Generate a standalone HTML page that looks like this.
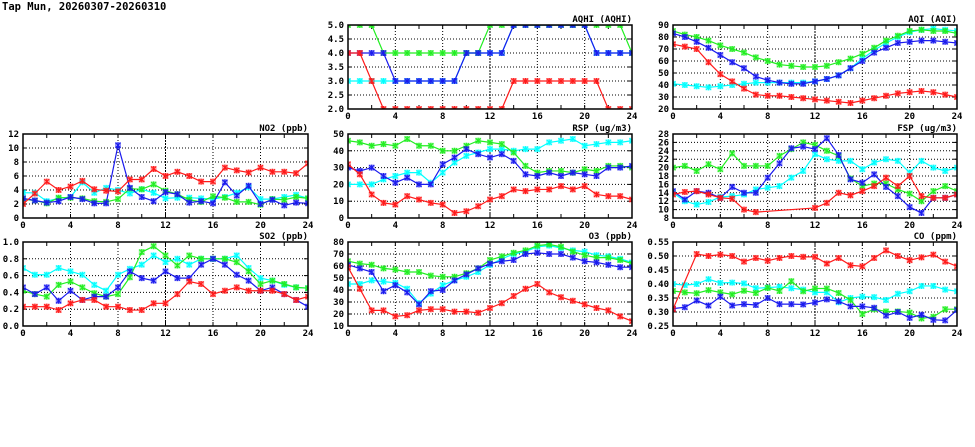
<!DOCTYPE html>
<html><head><meta charset="utf-8">
<style>
html,body{margin:0;padding:0;background:#fff;width:975px;height:447px;overflow:hidden}
svg text{font-family:"DejaVu Sans Mono","Liberation Mono",monospace;font-weight:bold;font-size:9px;fill:#000}
</style></head><body>
<svg id="s" width="975" height="447" xmlns="http://www.w3.org/2000/svg">
<text x="2" y="10" style="font-size:10.5px">Tap Mun, 20260307-20260310</text>
</svg>
<script>
const S=document.getElementById('s');const NS='http://www.w3.org/2000/svg';
function el(t,a,p){const e=document.createElementNS(NS,t);for(const k in a)e.setAttribute(k,a[k]);(p||S).appendChild(e);return e;}
const C={c:'#00ffff',g:'#22ee22',b:'#1a1aee',r:'#ff1a1a'};
const panels=[
{t:'AQHI (AQHI)',x0:348,x1:632,y0:25,y1:109,min:2,max:5,ticks:[2,2.5,3,3.5,4,4.5,5],fmt:v=>v.toFixed(1),d:{
c:[3,3,3,3,3,3,3,3,3,3,4,4,4,4,5,5,5,5,5,5,5,4,4,4,4],
g:[5,5,5,4,4,4,4,4,4,4,4,4,5,5,5,5,5,5,5,5,5,5,5,5,4],
b:[4,4,4,4,3,3,3,3,3,3,4,4,4,4,5,5,5,5,5,5,5,4,4,4,4],
r:[4,4,3,2,2,2,2,2,2,2,2,2,2,2,3,3,3,3,3,3,3,3,2,2,2]}},
{t:'AQI (AQI)',x0:673,x1:957,y0:25,y1:109,min:20,max:90,ticks:[20,30,40,50,60,70,80,90],fmt:v=>v,d:{
c:[41,40,39,38,39,40,41,42,42,42,42,42,43,45,48,54,62,69,75,80,84,86,87,86,85],
g:[85,82,80,77,73,70,67,63,60,57,56,55,55,56,59,62,66,71,77,81,85,86,85,85,83],
b:[83,80,76,71,65,59,54,47,44,42,41,41,43,45,48,54,60,67,71,75,76,77,77,76,75],
r:[74,72,70,59,49,43,37,32,31,31,30,29,28,27,26,25,27,29,31,33,34,35,34,32,30]}},
{t:'NO2 (ppb)',x0:23,x1:308,y0:134,y1:218,min:0,max:12,ticks:[0,2,4,6,8,10,12],fmt:v=>v,d:{
c:[3.6,3.6,2.4,2.8,3,5.1,3.6,4.3,4,3.5,4.1,3.6,2.8,2.9,2.9,2.8,2.7,3,3.6,4.4,2.7,2.7,3,3.3,2.8],
g:[2.7,2.5,2.1,2.9,2.9,2.8,2.4,2.3,2.7,4.2,4.1,4.8,3.9,3.4,2.6,2.3,3.1,2.9,2.3,2.3,1.9,2.7,2.6,3,2.8],
b:[2.8,2.5,2.2,2.4,3,2.7,2.1,2.1,10.4,4.3,3,2.4,3.7,3.4,2.2,2.4,2.1,5.1,3.2,4.6,2,2.6,1.8,2.2,2.1],
r:[2,3.5,5.2,4,4.5,5.3,4.1,3.9,3.8,5.5,5.5,7,6,6.6,6,5.2,5.2,7.2,6.8,6.5,7.2,6.6,6.6,6.4,7.8]}},
{t:'RSP (ug/m3)',x0:348,x1:632,y0:134,y1:218,min:0,max:50,ticks:[0,10,20,30,40,50],fmt:v=>v,d:{
c:[20,20,20,23,25,27,27,21,27,33,37,39,41,41,40,41,41,45,46,47,43,44,45,45,46],
g:[46,45,43,44,43,47,43,43,40,40,43,46,45,44,39,31,27,28,28,27,29,28,31,31,30],
b:[30,28,30,25,21,24,20,20,32,36,41,38,36,38,34,26,25,27,25,27,26,25,30,30,31],
r:[32,26,14,9,8,13,11,9,8,3,4,7,11,13,17,16,17,17,19,17,19,14,13,13,11]}},
{t:'FSP (ug/m3)',x0:673,x1:957,y0:134,y1:218,min:8,max:28,ticks:[8,10,12,14,16,18,20,22,24,26,28],fmt:v=>v,d:{
c:[14,12,11.2,11.8,13,13.2,13.6,14.8,15.2,15.6,17.6,19.2,23.2,22,21.6,21.6,19.6,21.2,22,21.6,18.8,21.6,20,19.2,20],
g:[20,20.4,19.2,20.8,19.6,23.4,20.4,20.4,20.4,22.8,24.4,26,25.4,24,22.8,17.4,15.6,16.2,16.2,14.8,13.8,12,14.4,15.6,14.4],
b:[14.4,12.4,14.4,14,12.8,15.4,14,14,17.6,21,24.6,25,24.4,27,23,17.2,16.4,18.4,15.4,13.2,10.6,9.2,12.8,12.8,13.6],
r:[13.6,14.2,14.4,13.6,12.8,12.6,10,9.4,null,null,null,null,10.4,11.6,14,13.4,14.4,15.6,17.6,15.6,18,13.2,12.8,12.8,13.6]}},
{t:'SO2 (ppb)',x0:23,x1:308,y0:242,y1:326,min:0,max:1,ticks:[0,0.2,0.4,0.6,0.8,1],fmt:v=>v.toFixed(1),d:{
c:[.69,.61,.61,.69,.65,.61,.49,.42,.61,.68,.73,.84,.76,.80,.73,.80,.80,.80,.84,.69,.57,.54,.49,.46,.45],
g:[.42,.38,.35,.49,.53,.46,.39,.35,.38,.58,.88,.95,.84,.72,.84,.80,.80,.80,.76,.65,.50,.54,.50,.46,.45],
b:[.46,.38,.46,.30,.42,.31,.35,.35,.46,.65,.57,.54,.65,.57,.57,.73,.80,.73,.61,.54,.42,.46,.38,.31,.23],
r:[.23,.23,.23,.19,.27,.31,.31,.23,.23,.19,.19,.27,.27,.38,.53,.50,.38,.42,.46,.42,.42,.42,.38,.31,.35]}},
{t:'O3 (ppb)',x0:348,x1:632,y0:242,y1:326,min:10,max:80,ticks:[10,20,30,40,50,60,70,80],fmt:v=>v,d:{
c:[45,45,48,47,46,41,29,37,44,48,51,55,61,66,70,72,76,77,75,73,72,69,68,66,63],
g:[64,62,61,58,57,55,55,52,51,51,54,58,65,68,71,73,77,78,76,72,69,67,67,65,62],
b:[61,58,55,39,44,38,28,39,40,48,53,58,62,64,65,70,71,70,70,67,64,63,61,59,59],
r:[59,41,23,23,18,19,23,24,24,22,22,21,25,29,35,41,45,38,34,31,28,25,23,18,14]}},
{t:'CO (ppm)',x0:673,x1:957,y0:242,y1:326,min:.25,max:.55,ticks:[.25,.3,.35,.4,.45,.5,.55],fmt:v=>v.toFixed(2),d:{
c:[.40,.396,.40,.417,.404,.405,.402,.385,.387,.39,.385,.38,.37,.37,.335,.35,.355,.353,.343,.365,.374,.393,.393,.38,.374],
g:[.375,.37,.367,.378,.37,.363,.376,.368,.386,.375,.41,.374,.384,.384,.368,.343,.293,.31,.302,.302,.298,.277,.283,.31,.31],
b:[.312,.317,.341,.323,.355,.323,.328,.325,.35,.328,.328,.327,.334,.345,.338,.32,.32,.315,.287,.30,.279,.29,.272,.27,.307],
r:[.31,null,.507,.50,.505,.50,.48,.493,.483,.493,.50,.497,.497,.473,.493,.467,.463,.493,.52,.50,.485,.495,.505,.48,.463]}}
];
panels.forEach((p,i)=>{
 const X=h=>p.x0+(p.x1-p.x0)*h/24, Y=v=>p.y1-(p.y1-p.y0)*(v-p.min)/(p.max-p.min);
 for(let h=4;h<24;h+=4)el('line',{x1:X(h),x2:X(h),y1:p.y0,y2:p.y1,stroke:'#000','stroke-width':1,'stroke-dasharray':h==12?'2,1':'1,2'});
 p.ticks.forEach(v=>{
  if(v!=p.min&&v!=p.max)el('line',{x1:p.x0,x2:p.x1,y1:Y(v),y2:Y(v),stroke:'#000','stroke-dasharray':'1,2'});
  el('line',{x1:p.x0,x2:p.x0+4,y1:Y(v),y2:Y(v),stroke:'#000'});
  el('line',{x1:p.x1,x2:p.x1-4,y1:Y(v),y2:Y(v),stroke:'#000'});
  const t=el('text',{x:p.x0-4,y:Y(v)+3,'text-anchor':'end'});t.textContent=p.fmt(v);
 });
 for(let h=0;h<=24;h+=2){
  el('line',{x1:X(h),x2:X(h),y1:p.y0,y2:p.y0+4,stroke:'#000'});
  el('line',{x1:X(h),x2:X(h),y1:p.y1,y2:p.y1-4,stroke:'#000'});
 }
 for(let h=0;h<=24;h+=4){const t=el('text',{x:X(h),y:p.y1+10,'text-anchor':'middle'});t.textContent=h;}
 const tt=el('text',{x:p.x1,y:p.y0-3,'text-anchor':'end'});tt.textContent=p.t;
 const cp=el('clipPath',{id:'cp'+i});el('rect',{x:p.x0,y:p.y0,width:p.x1-p.x0,height:p.y1-p.y0},cp);
 const g=el('g',{'clip-path':'url(#cp'+i+')'});
 ['c','g','b','r'].forEach(k=>{
  const d=p.d[k];const pts=[];d.forEach((v,h)=>{if(v!=null)pts.push([X(h),Y(v)]);});
  el('polyline',{points:pts.map(q=>q.join(',')).join(' '),fill:'none',stroke:C[k],'stroke-width':1.2},g);
  pts.forEach(([x,y])=>{
   el('rect',{x:x-2.5,y:y-2.5,width:5,height:5,fill:C[k],'fill-opacity':.3,stroke:C[k],'stroke-opacity':.4,'stroke-width':1},g);
   el('path',{d:`M${x-2.5},${y-2.5}L${x+2.5},${y+2.5}M${x-2.5},${y+2.5}L${x+2.5},${y-2.5}M${x},${y-3}L${x},${y+3}`,stroke:C[k],'stroke-width':1.1},g);
  });
 });
 el('rect',{x:p.x0,y:p.y0,width:p.x1-p.x0,height:p.y1-p.y0,fill:'none',stroke:'#000','stroke-width':1.5});
});
</script>
</body></html>
